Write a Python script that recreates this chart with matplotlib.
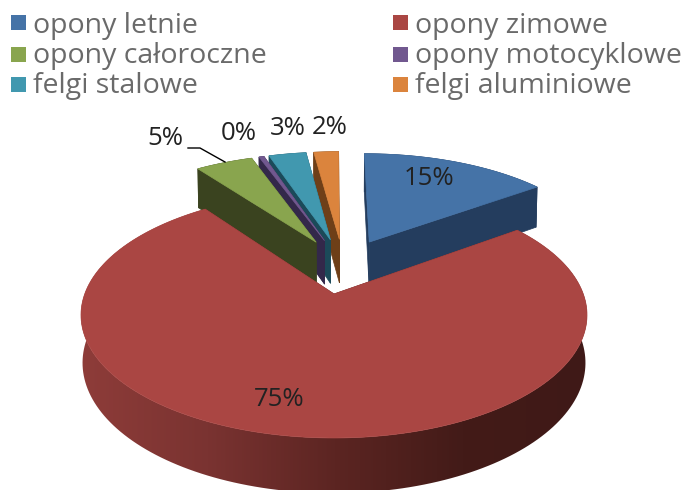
import numpy as np
import matplotlib as mpl
mpl.use('Agg')
import matplotlib.pyplot as plt
from matplotlib.patches import Polygon, Rectangle
from matplotlib.colors import LinearSegmentedColormap

# Data
labels = ['opony letnie', 'opony zimowe', 'opony całoroczne', 'opony motocyklowe', 'felgi stalowe', 'felgi aluminiowe']
values = [15, 75, 4.6, 0.4, 3, 2]
top_colors = ['#4573A7', '#AA4643', '#89A54E', '#71588F', '#4198AF', '#DB843D']
side_colors = ['#243D5E', '#5E2623', '#3A431F', '#33284A', '#1B4A59', '#6E3F18']

# 3d look: circle in (u, v) goes through a perspective map
K, A, B, D, C = 0.1707, 249.3, 119.4, 47.0, 0.006
X0, Y0 = 334, 294
EXPLODE = 0.25
RED = 1

def project(u, v, z=0.0):
    w = 1 - K * v + C * z
    return X0 + A * u / w, Y0 + (B * v + D * z) / w

fig = plt.figure(figsize=(6.87, 4.90), dpi=100)
ax = fig.add_axes([0, 0, 1, 1])
ax.set_xlim(0, 687)
ax.set_ylim(490, 0)
ax.axis('off')

edges = np.cumsum([0] + values) / np.sum(values) * 2 * np.pi
mids = (edges[:-1] + edges[1:]) / 2
# the big slice stays at the origin of the map, others move relative to it
cu = -EXPLODE * np.sin(mids[RED])
cv = EXPLODE * np.cos(mids[RED])

red_cmap = LinearSegmentedColormap.from_list('redwall', ['#8E3C39', '#7A3331', '#5C2522', '#431B18', '#3F1917'])

# far slices first, big one last
order = [0, 5, 4, 3, 2, 1]
for n, i in enumerate(order):
    ou = cu + EXPLODE * np.sin(mids[i])
    ov = cv - EXPLODE * np.cos(mids[i])
    th = np.linspace(edges[i], edges[i + 1], max(4, int((edges[i + 1] - edges[i]) * 40)))
    us = ou + np.sin(th)
    vs = ov - np.cos(th)
    # radial walls
    for a, b in [(us[0], vs[0]), (us[-1], vs[-1])]:
        pts = [project(ou, ov), project(a, b), project(a, b, 1), project(ou, ov, 1)]
        ax.add_patch(Polygon(pts, closed=True, fc=side_colors[i], ec=side_colors[i], lw=0.5, zorder=n * 3 + 1))
    # outer wall
    tx, ty = project(us, vs)
    bx, by = project(us, vs, 1)
    wall = np.r_[np.c_[tx, ty], np.c_[bx, by][::-1]]
    if i == RED:
        # gradient left to right, clipped to the wall
        clip = Polygon(wall, closed=True, fc='none', ec='none', transform=ax.transData)
        ax.add_patch(clip)
        im = ax.imshow(np.linspace(0, 1, 256).reshape(1, -1), cmap=red_cmap, extent=(80, 590, 500, 150),
                       aspect='auto', zorder=n * 3 + 2, interpolation='bilinear')
        im.set_clip_path(clip)
    else:
        ax.add_patch(Polygon(wall, closed=True, fc=side_colors[i], ec=side_colors[i], lw=0.5, zorder=n * 3 + 2))
    # top
    px, py = project(np.r_[ou, us], np.r_[ov, vs])
    ax.add_patch(Polygon(np.c_[px, py], closed=True, fc=top_colors[i], ec=top_colors[i], lw=0.5, zorder=n * 3 + 3))

ax.set_xlim(0, 687)
ax.set_ylim(490, 0)

# legend
FONT = 'Open Sans'
leg_x = [11, 393]
box_y = [15, 47, 77]
text_y = [26, 56, 86]
for i, lab in enumerate(labels):
    col, row = i % 2, i // 2
    ax.add_patch(Rectangle((leg_x[col], box_y[row]), 15, 15, fc=top_colors[i], ec='none', zorder=30))
    ax.text(leg_x[col] + 22, text_y[row], lab, fontsize=20.5, color='#6A6A6A', family=FONT, va='center', ha='left', zorder=30)

# value labels
label_xy = [(429, 178), (279, 399), (165, 138), (239, 133), (288, 128), (330, 127)]
for v, (x, y) in zip(values, label_xy):
    ax.text(x, y, f'{v:.0f}%', fontsize=18.5, color='#222222', family=FONT, ha='center', va='center', zorder=31)

ax.plot([188, 200, 225], [148, 148, 162], color='black', lw=1.0, zorder=31)

plt.savefig('out.png', dpi=100)
